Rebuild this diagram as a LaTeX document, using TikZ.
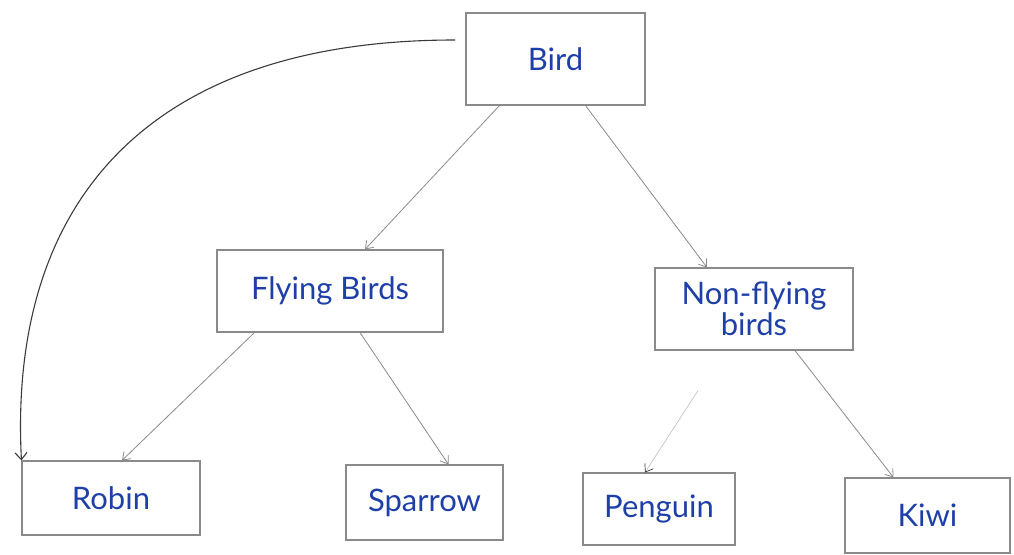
\documentclass[tikz,border=0pt]{standalone}
\usepackage{fontspec}
\setmainfont{Lato}
\usetikzlibrary{arrows.meta}
\definecolor{ink}{HTML}{1F3FA8}
\definecolor{pencil}{HTML}{8A8A8A}
\definecolor{dark}{HTML}{3A3A3A}
\tikzset{
  box/.style={draw=pencil, line width=1.1pt, inner sep=0pt, text=ink,
    font=\fontsize{31}{34}\selectfont, align=center},
  conn/.style={draw=pencil, line width=0.8pt, -{Straight Barb[length=7pt,width=10pt]}},
  faint/.style={draw=pencil!50, line width=0.7pt, -{Straight Barb[length=7pt,width=10pt,color=dark]}},
  curvy/.style={draw=dark, line width=1.1pt, -{Straight Barb[length=7pt,width=12pt]}}
}
\begin{document}
\begin{tikzpicture}[x=1pt,y=-1pt]
\useasboundingbox (0,0) rectangle (1014,554);
\node[box, minimum width=179pt, minimum height=92pt] (bird) at (555.5,59) {Bird};
\node[box, minimum width=226pt, minimum height=82pt] (fly) at (330,291) {Flying Birds};
\node[box, minimum width=198pt, minimum height=82pt] (non) at (754,309) {Non-flying\\[-3pt]birds};
\node[box, minimum width=178pt, minimum height=74pt] (robin) at (111,498) {Robin};
\node[box, minimum width=157pt, minimum height=75pt] (sparrow) at (424.5,502.5) {Sparrow};
\node[box, minimum width=152pt, minimum height=72pt] (penguin) at (659,509) {Penguin};
\node[box, minimum width=165pt, minimum height=75pt] (kiwi) at (927.5,515.5) {Kiwi};
\coordinate (curvestart) at (455,40);
\draw[conn] ([xshift=34pt]bird.south west) -- ([xshift=35pt]fly.north);
\draw[conn] ([xshift=30pt]bird.south) -- ([xshift=-47pt]non.north);
\draw[conn] ([xshift=38pt]fly.south west) -- ([xshift=11pt]robin.north);
\draw[conn] ([xshift=30pt]fly.south) -- ([xshift=24pt]sparrow.north);
\draw[faint] ([xshift=-56pt,yshift=-40pt]non.south) -- ([xshift=-14pt]penguin.north);
\draw[conn] ([xshift=41pt]non.south) -- ([xshift=-34pt]kiwi.north);
\draw[curvy] (curvestart) .. controls (150,40) and (8,200) .. (robin.north west);
\end{tikzpicture}
\end{document}
